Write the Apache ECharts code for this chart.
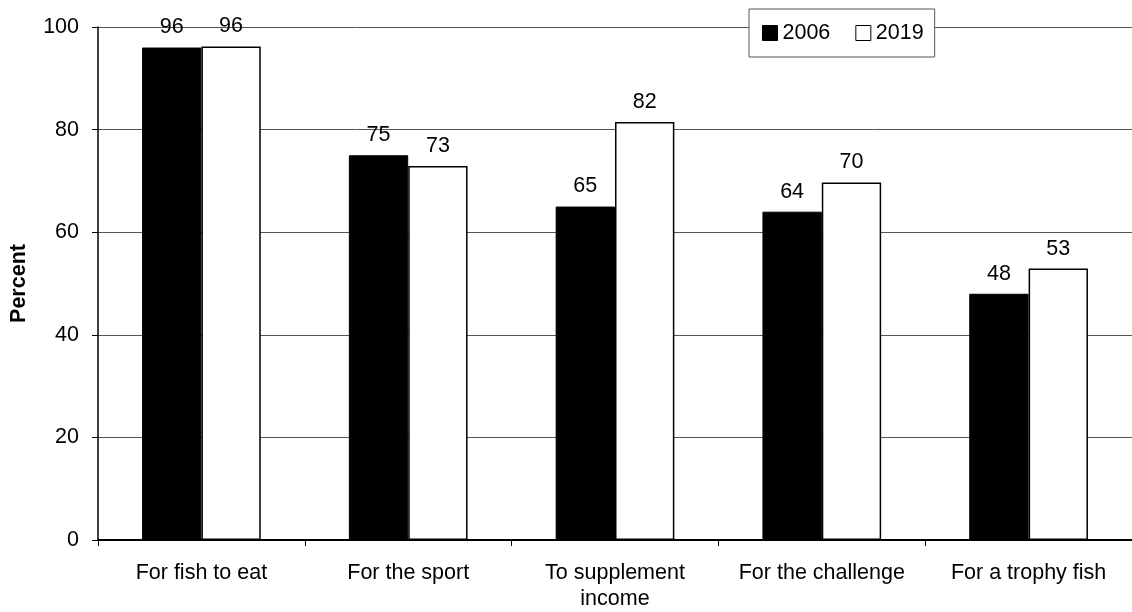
<!DOCTYPE html>
<html>
<head>
<meta charset="utf-8">
<script src="https://cdn.jsdelivr.net/npm/echarts@6/dist/echarts.min.js"></script>
<style>
html,body{margin:0;padding:0;background:#fff;}
#chart{width:1132px;height:612px;}
</style>
</head>
<body>
<div id="chart"></div>
<script>
const categories = ["For fish to eat", "For the sport", "To supplement\nincome", "For the challenge", "For a trophy fish"];
const values2006 = [96, 75, 65, 64, 48];
const values2019 = [96.2, 72.9, 81.5, 69.7, 52.9];
const seriesNames = ["2006", "2019"];
const yTicks = { min: 0, max: 100, interval: 20 };

const FONT = "'Liberation Sans', Arial, sans-serif";
const FS = 21.5;

const chart = echarts.init(document.getElementById('chart'), null, { renderer: 'canvas' });

const labelCfg = {
  show: true,
  position: 'top',
  distance: 9,
  color: '#000',
  fontFamily: FONT,
  fontSize: FS,
  formatter: p => Math.round(p.value)
};

chart.setOption({
  animation: false,
  backgroundColor: '#fff',
  textStyle: { fontFamily: FONT },
  grid: { left: 95, top: 27, width: 1045, height: 513, containLabel: false },
  legend: {
    data: seriesNames,
    left: 749,
    top: 9,
    orient: 'horizontal',
    icon: 'rect',
    itemWidth: 15,
    itemHeight: 15,
    itemGap: 25,
    padding: [13, 11, 13, 13],
    backgroundColor: '#fff',
    borderColor: '#555',
    borderWidth: 1,
    borderRadius: 0,
    textStyle: { color: '#000', fontFamily: FONT, fontSize: FS },
    itemStyle: { borderColor: '#000', borderWidth: 1 }
  },
  xAxis: {
    type: 'category',
    data: categories,
    boundaryGap: true,
    axisLine: { show: true, lineStyle: { color: '#000', width: 2 } },
    axisTick: { show: true, alignWithLabel: false, length: 6, interval: 0, lineStyle: { color: '#000', width: 1 } },
    axisLabel: { color: '#000', fontFamily: FONT, fontSize: FS, lineHeight: 26, margin: 20, interval: 0 },
    splitLine: { show: false }
  },
  yAxis: {
    type: 'value',
    min: yTicks.min,
    max: yTicks.max,
    interval: yTicks.interval,
    name: 'Percent',
    nameLocation: 'middle',
    nameGap: 68,
    nameRotate: 90,
    nameTextStyle: { color: '#000', fontFamily: FONT, fontSize: FS, fontWeight: 'bold' },
    axisLine: { show: true, lineStyle: { color: '#000', width: 1.5 } },
    axisTick: { show: true, inside: false, length: 6, lineStyle: { color: '#000', width: 1 } },
    axisLabel: { color: '#000', fontFamily: FONT, fontSize: FS, margin: 19 },
    splitLine: { show: true, lineStyle: { color: '#555', width: 1 } }
  },
  series: [
    {
      name: seriesNames[0],
      type: 'bar',
      data: values2006,
      barGap: '0%',
      barCategoryGap: '42.6%',
      itemStyle: { color: '#000', borderColor: '#000', borderWidth: 1 },
      label: labelCfg
    },
    {
      name: seriesNames[1],
      type: 'bar',
      data: values2019,
      barGap: '0%',
      barCategoryGap: '42.6%',
      itemStyle: { color: '#fff', borderColor: '#000', borderWidth: 1.5 },
      label: labelCfg
    }
  ]
});
</script>
</body>
</html>
